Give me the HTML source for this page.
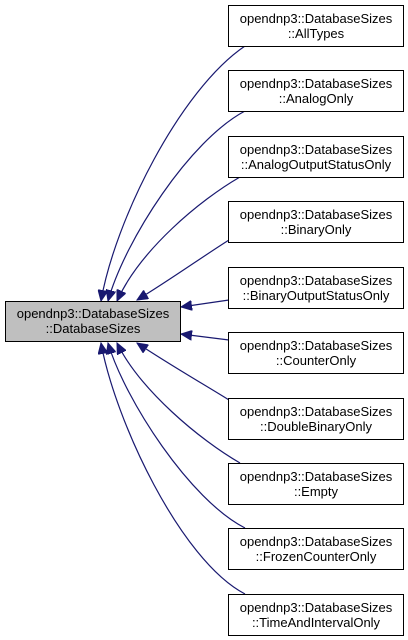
<!DOCTYPE html>
<html><head><style>
html,body{margin:0;padding:0;background:#fff;}
svg{display:block;}
text{font-family:"Liberation Sans",Arial,sans-serif;font-size:13px;fill:#000;}
</style></head><body>
<svg width="408" height="640" viewBox="0 0 408 640" xmlns="http://www.w3.org/2000/svg">
<defs>
<marker id="a" markerWidth="12" markerHeight="10" refX="11" refY="5" orient="auto-start-reverse" markerUnits="userSpaceOnUse">
<path d="M0,0 L11,5 L0,10 Z" fill="#191970" stroke="#191970"/>
</marker>
</defs>
<g fill="none" stroke="#191970" stroke-width="1.2" marker-start="url(#a)">
<path d="M101,301 C115,220 180,90 245,46"/>
<path d="M108,301 C125,240 190,140 245,111"/>
<path d="M117,301 C140,250 200,200 240,177"/>
<path d="M137,300 C170,280 205,255 229,240"/>
<path d="M181,307 L229,300"/>
<path d="M181,334 L229,340"/>
<path d="M137,343 C170,365 205,385 229,400"/>
<path d="M117,343 C140,390 200,440 240,463"/>
<path d="M108,343 C125,400 190,500 245,528"/>
<path d="M101,343 C115,420 180,560 245,594"/>
</g>
<rect x="5.5" y="301.5" width="175" height="40" fill="#bfbfbf" stroke="#000"/>
<text x="93" y="318" text-anchor="middle">opendnp3::DatabaseSizes</text>
<text x="93" y="333" text-anchor="middle">::DatabaseSizes</text>
<g fill="#fff" stroke="#000">
<rect x="228.5" y="5.5" width="175" height="41"/>
<rect x="228.5" y="70.5" width="175" height="41"/>
<rect x="228.5" y="136.5" width="175" height="41"/>
<rect x="228.5" y="201.5" width="175" height="41"/>
<rect x="228.5" y="267.5" width="175" height="41"/>
<rect x="228.5" y="332.5" width="175" height="41"/>
<rect x="228.5" y="398.5" width="175" height="41"/>
<rect x="228.5" y="463.5" width="175" height="41"/>
<rect x="228.5" y="528.5" width="175" height="41"/>
<rect x="228.5" y="594.5" width="175" height="41"/>
</g>
<g text-anchor="middle">
<text x="316" y="23">opendnp3::DatabaseSizes</text><text x="316" y="38">::AllTypes</text>
<text x="316" y="88">opendnp3::DatabaseSizes</text><text x="316" y="103">::AnalogOnly</text>
<text x="316" y="154">opendnp3::DatabaseSizes</text><text x="316" y="169">::AnalogOutputStatusOnly</text>
<text x="316" y="219">opendnp3::DatabaseSizes</text><text x="316" y="234">::BinaryOnly</text>
<text x="316" y="285">opendnp3::DatabaseSizes</text><text x="316" y="300">::BinaryOutputStatusOnly</text>
<text x="316" y="350">opendnp3::DatabaseSizes</text><text x="316" y="365">::CounterOnly</text>
<text x="316" y="416">opendnp3::DatabaseSizes</text><text x="316" y="431">::DoubleBinaryOnly</text>
<text x="316" y="481">opendnp3::DatabaseSizes</text><text x="316" y="496">::Empty</text>
<text x="316" y="546">opendnp3::DatabaseSizes</text><text x="316" y="561">::FrozenCounterOnly</text>
<text x="316" y="612">opendnp3::DatabaseSizes</text><text x="316" y="627">::TimeAndIntervalOnly</text>
</g>
</svg>
</body></html>
